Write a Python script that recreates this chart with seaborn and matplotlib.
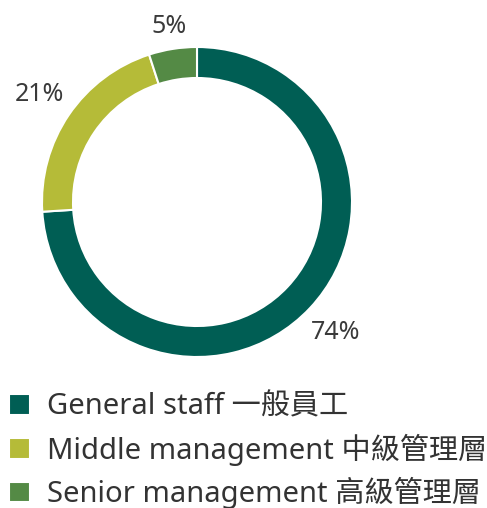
import matplotlib
matplotlib.use("Agg")
import matplotlib.pyplot as plt
import seaborn as sns

categories = ["General staff 一般員工", "Middle management 中級管理層", "Senior management 高級管理層"]
shares = [74, 21, 5]
share_labels = ["74%", "21%", "5%"]
colors = ["#005e54", "#b5bb38", "#548a45"]

sns.set_theme(style="white")
plt.rcParams["font.family"] = ["Noto Sans", "Noto Sans CJK TC", "DejaVu Sans"]

fig = plt.figure(figsize=(4.87, 5.08), dpi=100)
ax = fig.add_axes([42 / 487, 1 - 357 / 508, 310 / 487, 310 / 508])

wedges, texts = ax.pie(
    shares,
    labels=share_labels,
    colors=colors,
    startangle=90,
    counterclock=False,
    labeldistance=1.23,
    radius=1.0,
    wedgeprops=dict(width=0.2, edgecolor="white", linewidth=1.5),
    textprops=dict(fontsize=18, color="#3a3a3a"),
)
for t in texts:
    t.set_horizontalalignment("center")
    t.set_verticalalignment("center")
# the small slice's label sits a bit closer to the ring
x, y = texts[2].get_position()
texts[2].set_position((x * 0.93, y * 0.93))
ax.set_aspect("equal")
ax.set_xlim(-1, 1)
ax.set_ylim(-1, 1)

fig.legend(
    wedges,
    categories,
    loc="upper left",
    bbox_to_anchor=(-0.005, 1 - 381 / 508),
    frameon=False,
    fontsize=21,
    handlelength=0.7,
    handleheight=0.7,
    handletextpad=0.6,
    labelspacing=0.4,
    labelcolor="#333333",
    borderaxespad=0,
)

fig.savefig("out.png", dpi=100)
